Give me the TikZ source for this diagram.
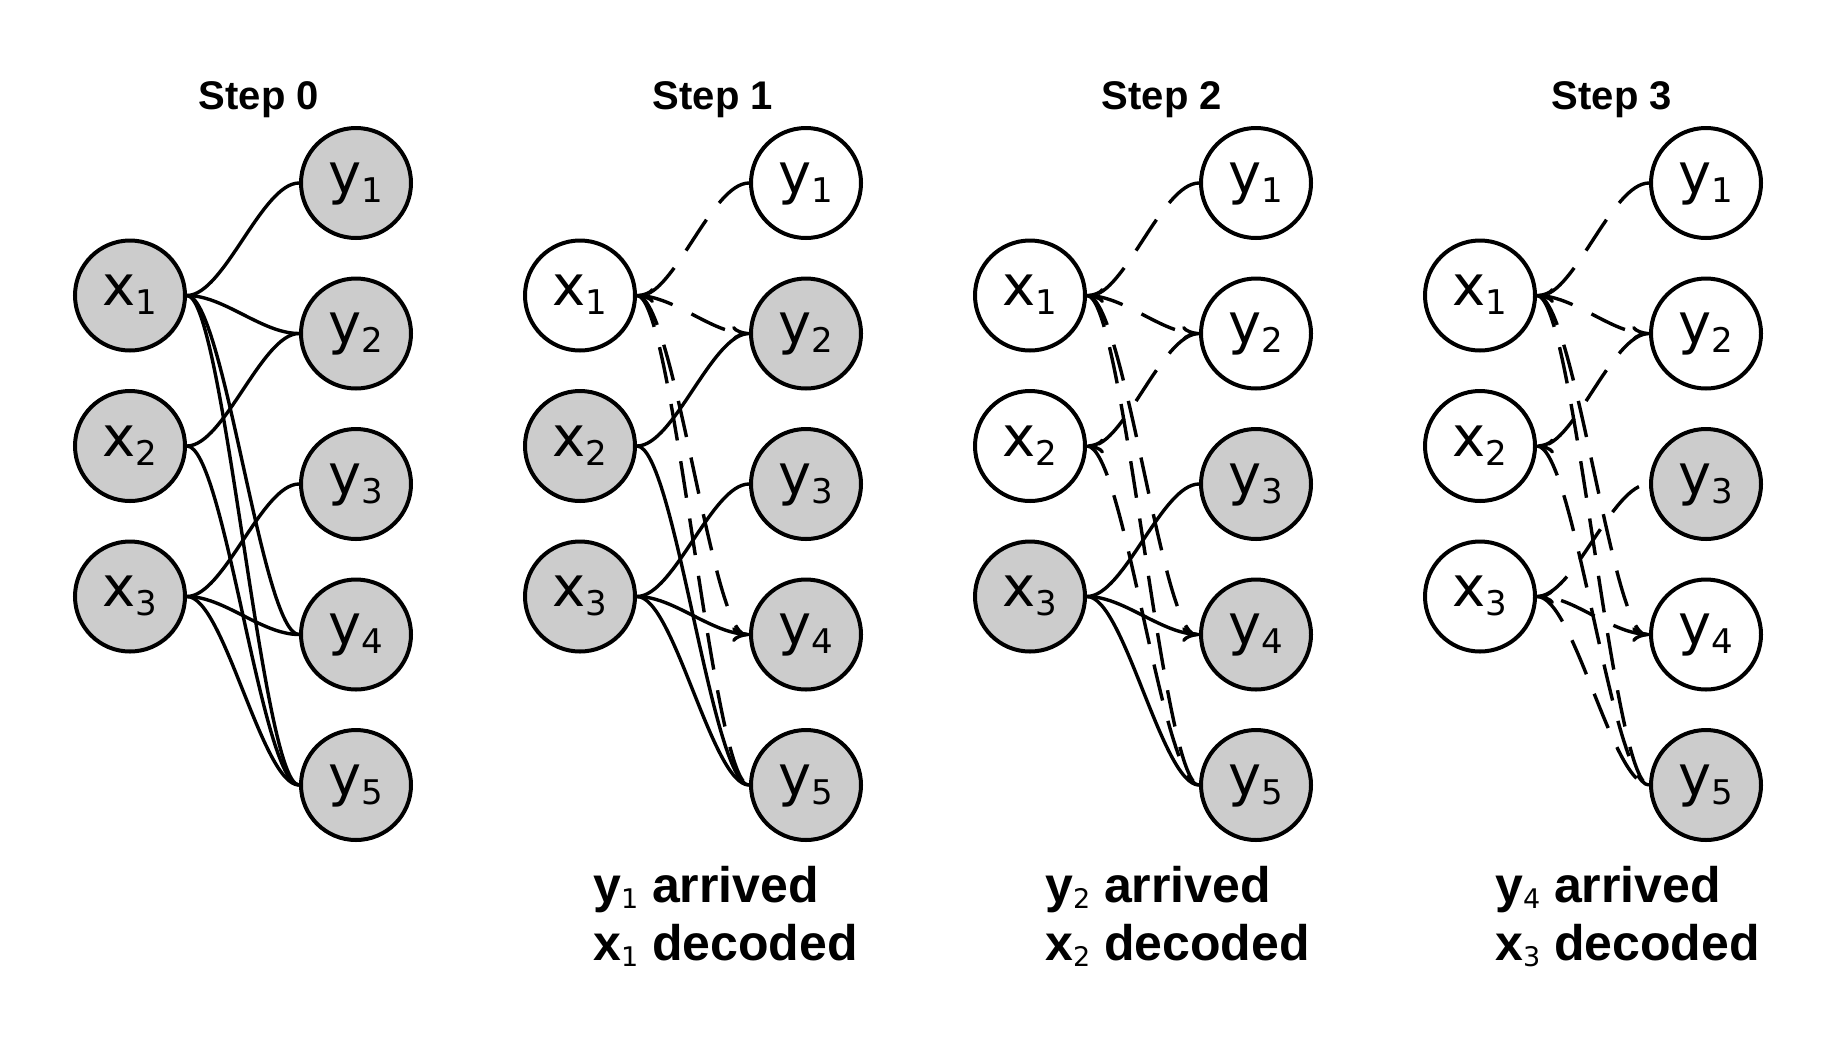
\documentclass[tikz,border=0pt]{standalone}
\usepackage{fontspec}
\setmainfont{Liberation Sans}
\newfontfamily\dejavu{DejaVu Sans}
\usetikzlibrary{arrows.meta}
\definecolor{lgray}{RGB}{204,204,204}
\newcommand\myNodeFont{\dejavu\fontsize{56}{60}\selectfont}
\newcommand\myNodeSub{\dejavu\fontsize{34}{36}\selectfont}
\newcommand\myTitleFont{\bfseries\fontsize{40}{44}\selectfont}
\newcommand\myCapFont{\bfseries\fontsize{50}{58}\selectfont}
\newcommand\myCapSub{\mdseries\dejavu\fontsize{27}{28}\selectfont}
\newcommand\lab[2]{#1\raisebox{-9pt}{\myNodeSub #2}}
\newcommand\clab[2]{#1\raisebox{-6pt}{\myCapSub #2}}
% x -> y edge
\newcommand\xy[3][]{\draw[edge,#1] (#2.east) .. controls +(37,0) and +(-37,0) .. (#3.west);}
% y -> x edge
\newcommand\yx[3][]{\draw[edge,#1] (#2.west) .. controls +(-37,0) and +(37,0) .. (#3.east);}
\tikzset{
  var/.style={circle, draw, line width=4pt, minimum size=110pt, inner sep=0pt,
              text height=30pt, text depth=10pt, font=\myNodeFont},
  known/.style={var, fill=white},
  unknown/.style={var, fill=lgray},
  edge/.style={line width=3.4pt},
  dsh/.style={dash pattern=on 37pt off 21pt},
  arr/.style={-{To[length=17pt,width=15pt]}},
  steptitle/.style={font=\myTitleFont, anchor=base, inner sep=0pt},
  caption/.style={font=\myCapFont, anchor=base west, inner sep=0pt},
}
\begin{document}
\begin{tikzpicture}[x=1pt,y=-1pt]
\useasboundingbox (0,0) rectangle (1839,1061);

% ---------- Step 0 ----------
\node[unknown] (a1) at (130,295.5) {\lab{x}{1}};
\node[unknown] (a2) at (130,446)   {\lab{x}{2}};
\node[unknown] (a3) at (130,596.5) {\lab{x}{3}};
\node[unknown] (b1) at (356,183)   {\lab{y}{1}};
\node[unknown] (b2) at (356,333.5) {\lab{y}{2}};
\node[unknown] (b3) at (356,484)   {\lab{y}{3}};
\node[unknown] (b4) at (356,634.5) {\lab{y}{4}};
\node[unknown] (b5) at (356,785)   {\lab{y}{5}};
\node[steptitle] (t0) at (259,109) {Step 0};
\xy{a1}{b1} \xy{a1}{b2} \xy{a1}{b4} \xy{a1}{b5}
\xy{a2}{b2} \xy{a2}{b5}
\xy{a3}{b3} \xy{a3}{b4} \xy{a3}{b5}

% ---------- Step 1 ----------
\node[known]   (c1) at (580,295.5) {\lab{x}{1}};
\node[unknown] (c2) at (580,446)   {\lab{x}{2}};
\node[unknown] (c3) at (580,596.5) {\lab{x}{3}};
\node[known]   (d1) at (806,183)   {\lab{y}{1}};
\node[unknown] (d2) at (806,333.5) {\lab{y}{2}};
\node[unknown] (d3) at (806,484)   {\lab{y}{3}};
\node[unknown] (d4) at (806,634.5) {\lab{y}{4}};
\node[unknown] (d5) at (806,785)   {\lab{y}{5}};
\node[steptitle] (t1) at (713,109) {Step 1};
\yx[dsh,arr]{d1}{c1} \xy[dsh,arr]{c1}{d2} \xy[dsh,arr]{c1}{d4} \xy[dsh]{c1}{d5}
\xy{c2}{d2} \xy{c2}{d5}
\xy{c3}{d3} \xy{c3}{d4} \xy{c3}{d5}
\node[caption] (k1a) at (593,902) {\clab{y}{1} arrived};
\node[caption] (k1b) at (593,960) {\clab{x}{1} decoded};

% ---------- Step 2 ----------
\node[known]   (e1) at (1030,295.5) {\lab{x}{1}};
\node[known]   (e2) at (1030,446)   {\lab{x}{2}};
\node[unknown] (e3) at (1030,596.5) {\lab{x}{3}};
\node[known]   (f1) at (1256,183)   {\lab{y}{1}};
\node[known]   (f2) at (1256,333.5) {\lab{y}{2}};
\node[unknown] (f3) at (1256,484)   {\lab{y}{3}};
\node[unknown] (f4) at (1256,634.5) {\lab{y}{4}};
\node[unknown] (f5) at (1256,785)   {\lab{y}{5}};
\node[steptitle] (t2) at (1162,109) {Step 2};
\yx[dsh,arr]{f1}{e1} \xy[dsh,arr]{e1}{f2} \yx[dsh,arr]{f2}{e2}
\xy[dsh,arr]{e1}{f4} \xy[dsh]{e1}{f5} \xy[dsh]{e2}{f5}
\xy{e3}{f3} \xy{e3}{f4} \xy{e3}{f5}
\node[caption] (k2a) at (1045,902) {\clab{y}{2} arrived};
\node[caption] (k2b) at (1045,960) {\clab{x}{2} decoded};

% ---------- Step 3 ----------
\node[known]   (g1) at (1480,295.5) {\lab{x}{1}};
\node[known]   (g2) at (1480,446)   {\lab{x}{2}};
\node[known]   (g3) at (1480,596.5) {\lab{x}{3}};
\node[known]   (h1) at (1706,183)   {\lab{y}{1}};
\node[known]   (h2) at (1706,333.5) {\lab{y}{2}};
\node[unknown] (h3) at (1706,484)   {\lab{y}{3}};
\node[known]   (h4) at (1706,634.5) {\lab{y}{4}};
\node[unknown] (h5) at (1706,785)   {\lab{y}{5}};
\node[steptitle] (t3) at (1612,109) {Step 3};
\yx[dsh,arr]{h1}{g1} \xy[dsh,arr]{g1}{h2} \yx[dsh,arr]{h2}{g2}
\xy[dsh,arr]{g1}{h4} \xy[dsh]{g1}{h5} \xy[dsh]{g2}{h5}
\yx[dsh,arr]{h4}{g3} \xy[dsh]{g3}{h3} \xy[dsh]{g3}{h5}
\node[caption] (k3a) at (1495,902) {\clab{y}{4} arrived};
\node[caption] (k3b) at (1495,960) {\clab{x}{3} decoded};
\end{tikzpicture}
\end{document}
